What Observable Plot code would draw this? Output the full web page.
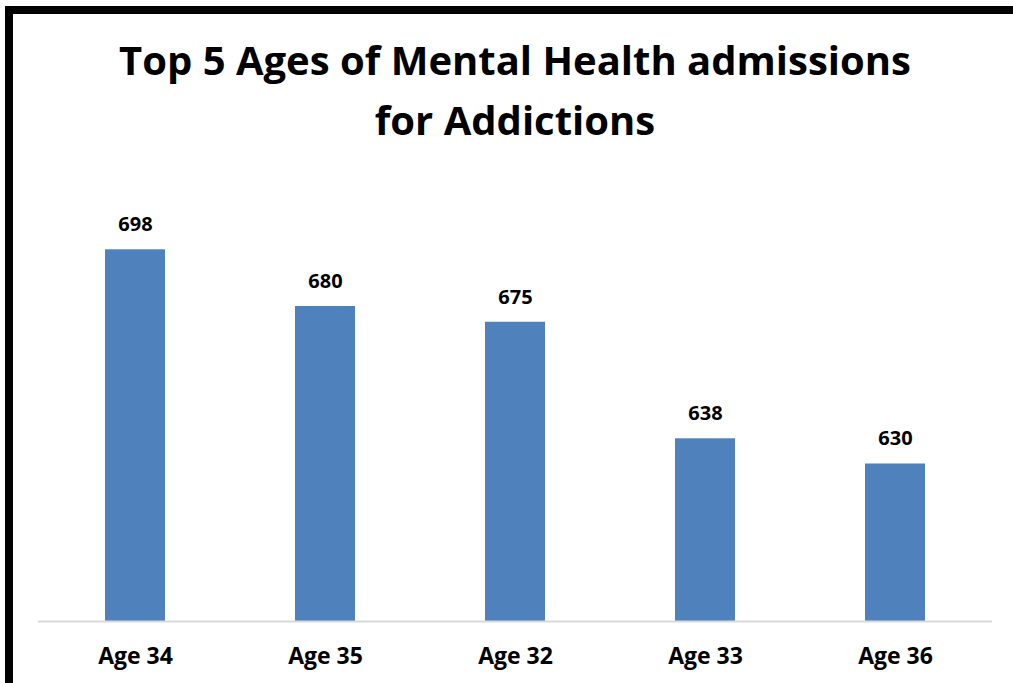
<!DOCTYPE html>
<html><head><meta charset="utf-8">
<script src="https://cdn.jsdelivr.net/npm/d3@7"></script>
<script src="https://cdn.jsdelivr.net/npm/@observablehq/plot@0.6"></script>
<style>
body{margin:0;background:#fff;width:1013px;height:683px;overflow:hidden;position:relative;font-family:"Open Sans",sans-serif}
#frame{position:absolute;left:5px;top:6px;width:1100px;height:800px;border-top:8px solid #000;border-left:8px solid #000;box-sizing:border-box}
.t{position:absolute;left:0;width:1030px;text-align:center;font-weight:700;font-size:40px;line-height:1;color:#000;white-space:nowrap}
#chart{position:absolute;left:0;top:140px}
</style></head><body>
<div id="frame"></div>
<div class="t" id="t1" style="top:40px">Top 5 Ages of Mental Health admissions</div>
<div class="t" id="t2" style="top:100px">for Addictions</div>
<div id="chart"></div>
<script>
const ages = ["Age 34", "Age 35", "Age 32", "Age 33", "Age 36"];
const admissions = [698, 680, 675, 638, 630];
const yDomain = [580, 720];
const data = ages.map((a, i) => ({age: a, value: admissions[i]}));

const chart = Plot.plot({
  width: 1013,
  height: 543,
  marginTop: 40,
  marginBottom: 62,
  marginLeft: 38,
  marginRight: 21,
  style: {fontFamily: "'Open Sans', sans-serif", fontWeight: "bold", color: "#000", background: "transparent"},
  x: {domain: ages, paddingInner: 0.685, paddingOuter: 0.3425, axis: null},
  y: {domain: yDomain, axis: null},
  marks: [
    Plot.barY(data, {x: "age", y: "value", fill: "#4F81BD", clip: true}),
    Plot.ruleY([yDomain[0]], {stroke: "#d9d9d9", strokeWidth: 2}),
    Plot.text(data, {x: "age", y: "value", text: d => String(d.value), dy: -25, fontSize: 20, fontWeight: "bold", fill: "#000"}),
    Plot.axisX({tickSize: 0, tickPadding: 26, fontSize: 23, fontWeight: "bold", fill: "#000", label: null})
  ]
});
document.getElementById("chart").appendChild(chart);
</script>
</body></html>
